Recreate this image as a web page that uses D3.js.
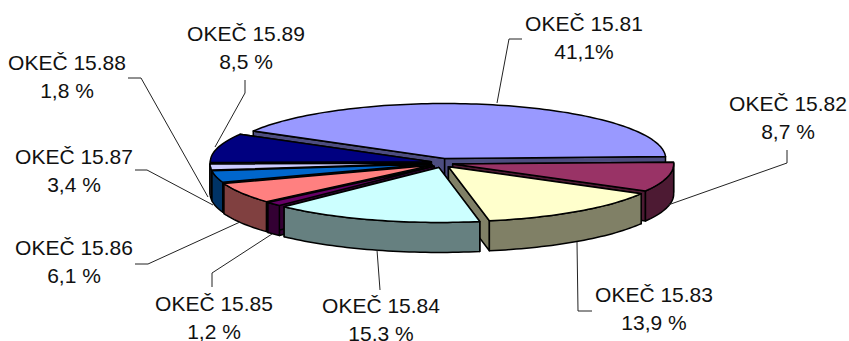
<!DOCTYPE html>
<html>
<head>
<meta charset="utf-8">
<script src="https://d3js.org/d3.v7.min.js"></script>
<style>
  html, body { margin: 0; padding: 0; background: #fff; }
  svg { display: block; }
</style>
</head>
<body>
<svg width="849" height="341"></svg>
<script>
// chart data
const categories = ["OKEČ 15.81", "OKEČ 15.82", "OKEČ 15.83", "OKEČ 15.84", "OKEČ 15.85",
                    "OKEČ 15.86", "OKEČ 15.87", "OKEČ 15.88", "OKEČ 15.89"];
const shares = [41.1, 8.7, 13.9, 15.3, 1.2, 6.1, 3.4, 1.8, 8.5];
const shareLabels = ["41,1%", "8,7 %", "13,9 %", "15,3 %", "1,2 %", "6,1 %", "3,4 %", "1,8 %", "8,5 %"];
const topColors = ["#9999ff", "#993366", "#ffffcc", "#ccffff", "#660066", "#ff8080", "#0066cc", "#ccccff", "#000080"];
const sideColors = ["#4d4d80", "#4d1a33", "#808066", "#668080", "#330033", "#804040", "#003366", "#666680", "#000040"];

// label placement: text centre, first baseline and the leader line of each slice
const labelLayout = [
  { x: 584, y: 31,  leader: [[497, 103], [509, 39], [522, 39]] },
  { x: 788, y: 111, leader: [[668, 205], [787, 163], [787, 150]] },
  { x: 654, y: 302, leader: [[577, 242], [578, 311], [592, 311]] },
  { x: 381, y: 313, leader: [[377, 250], [380, 290]] },
  { x: 214, y: 311, leader: [[272, 234], [212, 273], [212, 287]] },
  { x: 74,  y: 255, leader: [[240, 222], [148, 264], [135, 264]] },
  { x: 74,  y: 164, leader: [[213, 205], [147, 170], [135, 170]] },
  { x: 67,  y: 70,  leader: [[208, 197], [141, 78], [128, 78]] },
  { x: 246, y: 41,  leader: [[215, 147], [245, 93], [245, 80]] }
];

const cx = 442, cy = 163;   // pie centre
const rx = 221, ry = 55;    // radii of the tilted top
const depth = 30;           // height of the wall
const explode = 11;         // slice offset along its middle angle
const explodeTilt = 0.42;

const svg = d3.select("svg");

// unit circle -> screen
const x = d3.scaleLinear().domain([-1, 1]).range([-rx, rx]);
const y = d3.scaleLinear().domain([-1, 1]).range([ry, -ry]);

const pie = d3.pie().sort(null).value(function(d) { return d; })
  .startAngle(-60 * Math.PI / 180)
  .endAngle(300 * Math.PI / 180);

const line = d3.line();

// one slice with its offset apex and its arc points
const slices = pie(shares).map(function(d, i) {
  const mid = (d.startAngle + d.endAngle) / 2;
  const ax = cx + explode * Math.sin(mid);
  const ay = cy - explode * Math.cos(mid) * explodeTilt;
  const steps = Math.max(2, Math.ceil((d.endAngle - d.startAngle) * 40));
  const angles = d3.range(steps + 1).map(function(s) {
    return d.startAngle + (d.endAngle - d.startAngle) * s / steps;
  });
  const arc = angles.map(function(a) {
    return [ax + x(Math.sin(a)), ay + y(Math.cos(a))];
  });
  return { i: i, apex: [ax, ay], arc: arc, angles: angles };
});

const down = function(p) { return [p[0], p[1] + depth]; };

function drawSlice(s) {
  const g = svg.append("g")
    .attr("stroke", "#000")
    .attr("stroke-width", 1.5)
    .attr("stroke-linejoin", "round");
  const first = s.arc[0], last = s.arc[s.arc.length - 1];

  // the two cut faces
  [first, last].forEach(function(p) {
    g.append("path")
      .attr("d", line([s.apex, p, down(p), down(s.apex)]) + "Z")
      .attr("fill", sideColors[s.i]);
  });

  // rim, front half only
  const rim = s.arc.filter(function(p, k) { return Math.cos(s.angles[k]) <= 0.02; });
  if (rim.length > 1) {
    g.append("path")
      .attr("d", line(rim.concat(rim.slice().reverse().map(down))) + "Z")
      .attr("fill", sideColors[s.i]);
  }

  // top face
  g.append("path")
    .attr("d", line([s.apex].concat(s.arc)) + "Z")
    .attr("fill", topColors[s.i]);
}

// back to front
[0, 8, 7, 6, 1, 5, 2, 4, 3].forEach(function(i) { drawSlice(slices[i]); });

// leaders
svg.append("g").selectAll("path")
  .data(labelLayout)
  .join("path")
  .attr("d", function(d) { return line(d.leader); })
  .attr("fill", "none")
  .attr("stroke", "#222")
  .attr("stroke-width", 1);

// labels
const labels = svg.append("g")
  .attr("font-family", "'Liberation Sans', Arial, sans-serif")
  .attr("font-size", 21)
  .attr("fill", "#111")
  .attr("text-anchor", "middle");

categories.forEach(function(c, i) {
  const l = labelLayout[i];
  labels.append("text").attr("x", l.x).attr("y", l.y).text(c);
  labels.append("text").attr("x", l.x).attr("y", l.y + 28).text(shareLabels[i]);
});
</script>
</body>
</html>
